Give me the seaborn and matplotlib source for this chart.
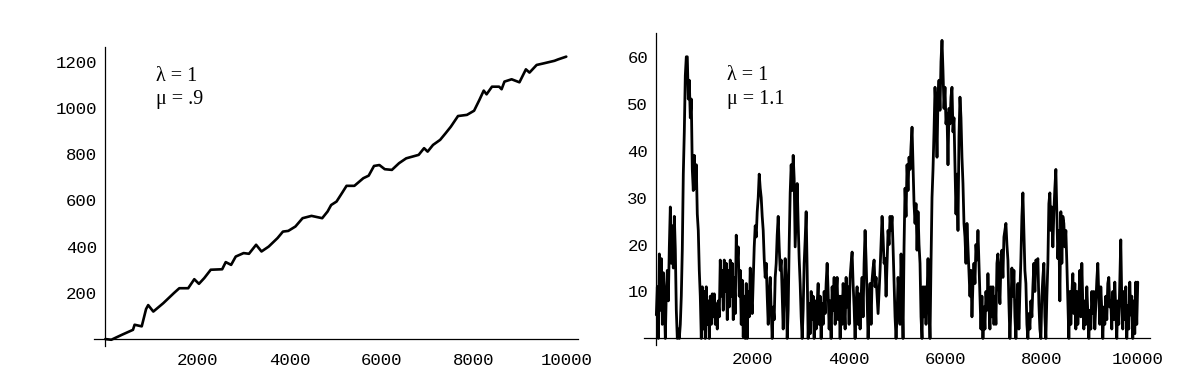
import numpy as np
import matplotlib
matplotlib.use("Agg")
import matplotlib.pyplot as plt
import seaborn as sns
from matplotlib.ticker import FixedLocator

# ---- data ----
left_x = [0, 130, 365, 600, 635, 790, 884, 930, 1041, 1256, 1488, 1605, 1798, 1930, 2031, 2147,
          2287, 2535, 2612, 2729, 2829, 3000, 3116, 3271, 3388, 3543, 3736, 3853, 3969, 4124,
          4279, 4473, 4705, 4822, 4899, 5016, 5132, 5233, 5403, 5597, 5713, 5829, 5946, 6062,
          6217, 6372, 6527, 6798, 6915, 6992, 7109, 7264, 7380, 7496, 7651, 7845, 8000, 8116,
          8209, 8271, 8388, 8543, 8597, 8659, 8814, 8984, 9124, 9202, 9357, 9512, 9744, 9822, 10000]
left_y = [0, -3, 19, 40, 62, 55, 130, 147, 119, 155, 199, 220, 220, 259, 239, 264,
          300, 302, 333, 321, 357, 372, 369, 408, 379, 400, 437, 465, 468, 487,
          523, 533, 523, 552, 580, 595, 631, 663, 663, 696, 707, 749, 753, 735,
          732, 761, 782, 797, 826, 811, 840, 862, 890, 919, 965, 970, 988, 1035,
          1075, 1059, 1092, 1092, 1081, 1114, 1124, 1111, 1167, 1153, 1186, 1193, 1204, 1210, 1222]

right_y = [
    5, 11, 0, 18, 6, 17, 3, 14, 8, 0,
    10, 14.5, 8, 19.5, 28, 16, 24, 15, 26, 19,
    6, 0, 2, 0, 3, 9, 19, 35, 44, 56,
    60, 60, 51, 55, 47, 51, 36, 31.5, 39, 32,
    37, 26.5, 23, 14.5, 9, 0, 11, 2, 10, 0,
    11, 3, 8, 0, 9, 3, 9.5, 4.6, 9.5, 3,
    7.4, 2, 8, 4.6, 16.7, 9, 14.5, 6, 16.7, 10,
    16, 4, 14.5, 6.7, 16.7, 9, 16, 4, 13, 5.3,
    22, 16, 19.5, 9, 14.5, 3, 12.4, 0.3, 9, 0,
    11.7, 0, 10, 4.6, 15, 9, 5.3, 12.4, 19.5, 24,
    21.6, 27, 30, 35, 32, 30, 26, 23, 17, 13,
    16, 9, 3, 9.5,
    13, 6, 0, 6.7, 4, 13, 16, 22, 26, 19.5,
    14.5, 16.7, 9.5, 2, 10, 17, 12.4, 0, 6, 20,
    31, 37, 31.5, 39, 34, 19.5, 26.5, 33, 24.5, 17,
    11.7, 4.6, 0, 6, 16, 21, 27, 14.5, 0, 7.4,
    1, 10, 4, 9, 0, 8, 2, 7.4, 11.7, 3,
    9, 0, 7.4, 3, 10, 5.3, 11.7, 16, 10, 2,
    8, 0, 11, 6, 13, 3, 9.5, 13, 4, 9,
    0, 9, 3, 11.7, 7.4, 2, 13, 6.7, 11, 3,
    13, 16, 18.4, 11.7, 6.7, 0, 7.4, 11, 3, 9.5,
    2, 9, 13, 4.6, 16, 23, 16.7, 9, 0, 6.7,
    11.7, 3, 12.4, 15, 16.7, 11, 13, 9, 5.3, 10,
    14.5, 20, 26, 21.6, 16,
    17, 9, 16, 23, 20, 26, 23, 26, 19.5, 11.7,
    4.6, 0, 4.6, 13, 9, 3, 18, 10, 0, 19.5,
    32, 26, 37, 31.5, 38.6, 36, 41, 45, 37, 28.7,
    24.5, 28.7, 18.8, 27, 20, 16, 4.6, 0, 11, 4.6,
    11, 3, 9, 17, 7.4, 0, 16, 30, 36, 44,
    53.5, 48.6, 38.6, 51.4, 55, 48.6, 59, 63.5, 57, 49,
    53.5, 45.7, 48, 37, 49, 45.7, 51.4, 53.5, 44, 47,
    37, 26.5, 35, 23, 43, 51.4, 47, 38.6, 33, 24.5,
    21.6, 16, 24.5, 19.5, 14.5, 9, 14.5, 4.6, 11.7, 16,
    11.7, 20, 16.7, 23, 16, 9, 2, 9, 0, 6.7,
    2, 10, 6, 13.8, 7.4, 2, 11, 4.6, 11, 3,
    9, 3, 16, 18, 11.7, 7.4, 16, 18.8, 13, 21.6,
    23, 24.5, 20, 16.7, 7.4, 0, 6.7, 15, 9, 14.5,
    4.6, 0, 6, 11.7, 2, 10, 17, 26, 31, 23,
    14.5, 11.7, 3, 0, 5.3, 2, 8, 4.6, 11, 16,
    10, 16.7, 16, 17, 7.4, 2, 0, 9, 13, 16,
    4.6, 0, 9, 16, 28.7, 31, 23, 28, 19.5, 27,
    32, 36, 26, 17, 23, 8, 27, 16, 26, 24.5,
    19.5, 23, 16, 8, 0, 10, 3, 9.5, 13.8, 5.3,
    11.7, 2, 10, 3, 8, 14.5, 4.6, 16, 7.4, 2,
    8, 3, 11, 5.3, 0, 6, 2, 10, 5.3, 10,
    2, 7.4, 12.4, 16, 9, 3, 11, 6, 0, 6.7,
    3, 9, 4, 11.7, 13, 6.7,
    8, 2, 10, 4, 12, 6, 0, 8, 3, 12, 21, 8, 2, 10,
    4, 11, 0, 7, 2, 12, 5, 9, 0, 8, 1, 12, 3, 12,
]
right_x = np.linspace(0, 10000, len(right_y))

x_ticks = [2000, 4000, 6000, 8000, 10000]
left_y_ticks = [200, 400, 600, 800, 1000, 1200]
right_y_ticks = [10, 20, 30, 40, 50, 60]
left_text = ["λ = 1", "μ = .9"]
right_text = ["λ = 1", "μ = 1.1"]

# ---- style ----
sns.set_style("white")
plt.rcParams['font.family'] = ['Liberation Mono', 'DejaVu Sans Mono']

fig = plt.figure(figsize=(12.04, 3.92), dpi=100)
W, H = 1204.0, 392.0
axL = fig.add_axes([93.8 / W, (H - 346) / H, 484 / W, 299.3 / H])
axR = fig.add_axes([644.3 / W, (H - 345) / H, 505.5 / W, 311.7 / H])

sns.lineplot(x=left_x, y=left_y, ax=axL, color="black", linewidth=1.9,
             estimator=None, sort=False)
sns.lineplot(x=right_x, y=right_y, ax=axR, color="black", linewidth=2.0,
             estimator=None, sort=False)


def style(ax, xlim, ylim, yticks, ystep_minor, ymax_minor):
    ax.set_xlim(*xlim)
    ax.set_ylim(*ylim)
    ax.patch.set_visible(False)
    for s in ["top", "right"]:
        ax.spines[s].set_visible(False)
    for s in ["left", "bottom"]:
        ax.spines[s].set_position(("data", 0))
        ax.spines[s].set_linewidth(0.9)
        ax.spines[s].set_color("black")
    ax.set_xticks(x_ticks)
    ax.set_xticklabels([str(t) for t in x_ticks])
    ax.set_yticks(yticks)
    ax.set_yticklabels([str(t) for t in yticks])
    xminor = [v for v in range(400, 10001, 400) if v not in x_ticks]
    yminor = [v for v in np.arange(ystep_minor, ymax_minor, ystep_minor)
              if not any(abs(v - t) < 1e-9 for t in yticks)]
    ax.xaxis.set_minor_locator(FixedLocator(xminor))
    ax.yaxis.set_minor_locator(FixedLocator(yminor))
    ax.tick_params(which="both", direction="in", color="black", width=0.8,
                   labelcolor="black")
    ax.tick_params(which="major", length=3.0)
    ax.tick_params(which="minor", length=1.8)
    ax.tick_params(axis="x", which="major", pad=10, labelsize=12.5)
    ax.tick_params(axis="y", which="major", pad=6, labelsize=12.5)
    ax.set_xlabel("")
    ax.set_ylabel("")
    ax.grid(False)


style(axL, (-250, 10250), (-30, 1265), left_y_ticks, 40, 1265)
style(axR, (-250, 10250), (-1.4, 65), right_y_ticks, 2, 65)

serif = ["Liberation Serif", "DejaVu Serif"]
fs = 14.5
axL.text(1100, 1118, left_text[0], family=serif, fontsize=fs, va="baseline", color="black")
axL.text(1100, 1017, left_text[1], family=serif, fontsize=fs, va="baseline", color="black")
axR.text(1464, 55.0, right_text[0], family=serif, fontsize=fs, va="baseline", color="black")
axR.text(1464, 50.0, right_text[1], family=serif, fontsize=fs, va="baseline", color="black")

fig.savefig("out.png", dpi=100, facecolor="white")
